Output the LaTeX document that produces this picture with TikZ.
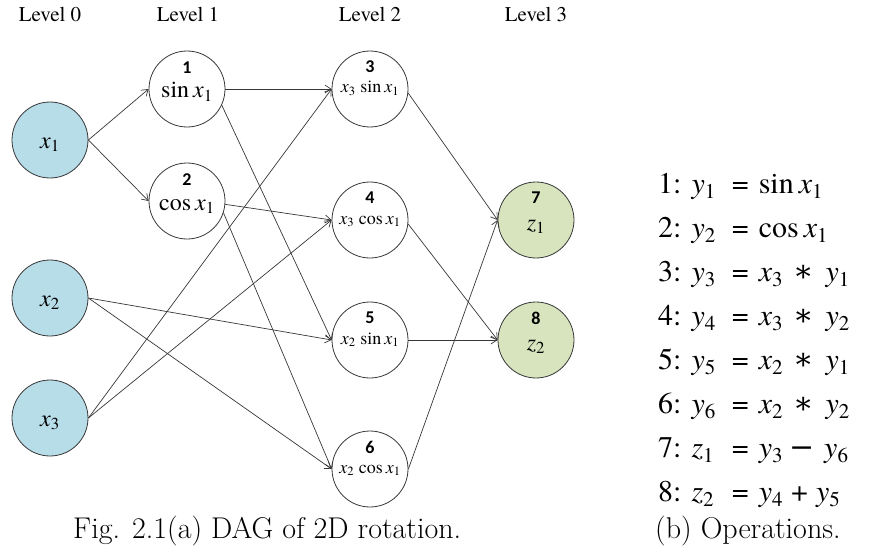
\documentclass[tikz,border=0pt]{standalone}
\usepackage{fontspec}
\setmainfont{texgyretermes}[Extension=.otf,UprightFont=*-regular,ItalicFont=*-italic,BoldFont=*-bold,BoldItalicFont=*-bolditalic]
\newfontfamily\lmr{Latin Modern Roman}
\newfontfamily\numfont{Carlito}
\newfontfamily\symfont{DejaVu Serif}
\usepackage{tikz}
\usetikzlibrary{arrows.meta}
\definecolor{xblue}{RGB}{183,221,232}
\definecolor{zgreen}{RGB}{215,228,189}
\definecolor{edgegray}{RGB}{55,55,55}
\newcommand{\vsub}[2]{\textit{#1}\textsubscript{#2}}
\newcommand{\opast}{\hspace{10pt}{\symfont ∗}\hspace{12pt}}
\newcommand{\opminus}{\hspace{6pt}{\symfont −}\hspace{10pt}}
\newcommand{\opplus}{\hspace{8pt}+\hspace{8pt}}
\tikzset{
  opnode/.style={circle,draw=edgegray,line width=0.8pt,minimum size=76pt,inner sep=0pt},
  innode/.style={opnode,fill=xblue},
  outnode/.style={opnode,fill=zgreen},
  numtxt/.style={font=\numfont\fontsize{18}{20}\selectfont\bfseries,inner sep=0pt},
  bigtxt/.style={font=\fontsize{24}{28}\selectfont,inner sep=0pt,anchor=base},
  smalltxt/.style={font=\fontsize{18}{22}\selectfont,inner sep=0pt,anchor=base},
  lvl/.style={font=\fontsize{21}{24}\selectfont,inner sep=0pt,anchor=base},
  capt/.style={font=\lmr\fontsize{30}{36}\selectfont,inner sep=0pt,anchor=base west},
  dag/.style={-{Straight Barb[length=6pt,width=8pt]},line width=0.7pt,edgegray},
}
\begin{document}
\begin{tikzpicture}[x=1pt,y=-1pt]
  \useasboundingbox (0,0) rectangle (869,559);

  % level headings
  \node[lvl] (lv0) at (50,22)  {Level 0};
  \node[lvl] (lv1) at (188,22) {Level 1};
  \node[lvl] (lv2) at (370,22) {Level 2};
  \node[lvl] (lv3) at (536,22) {Level 3};

  % inputs
  \node[innode] (x1) at (50,140) {};
  \node[innode] (x2) at (50,298) {};
  \node[innode] (x3) at (50,418) {};
  \node[bigtxt] (x1t) at ([yshift=-8pt]x1.center) {\vsub{x}{1}};
  \node[bigtxt] (x2t) at ([yshift=-8pt]x2.center) {\vsub{x}{2}};
  \node[bigtxt] (x3t) at ([yshift=-8pt]x3.center) {\vsub{x}{3}};

  % level 1
  \node[opnode] (n1) at (187,89)  {};
  \node[opnode] (n2) at (187,201) {};
  \node[numtxt] (n1a) at ([yshift=21pt]n1.center) {1};
  \node[numtxt] (n2a) at ([yshift=21pt]n2.center) {2};
  \node[bigtxt] (n1b) at ([yshift=-9pt]n1.center) {sin\,\vsub{x}{1}};
  \node[bigtxt] (n2b) at ([yshift=-9pt]n2.center) {cos\,\vsub{x}{1}};

  % level 2
  \node[opnode] (n3) at (370,89)  {};
  \node[opnode] (n4) at (370,220) {};
  \node[opnode] (n5) at (370,340) {};
  \node[opnode] (n6) at (370,469) {};
  \node[numtxt] (n3a) at ([yshift=22pt]n3.center) {3};
  \node[numtxt] (n4a) at ([yshift=22pt]n4.center) {4};
  \node[numtxt] (n5a) at ([yshift=22pt]n5.center) {5};
  \node[numtxt] (n6a) at ([yshift=22pt]n6.center) {6};
  \node[smalltxt] (n3b) at ([yshift=-4pt]n3.center) {\vsub{x}{3} sin\,\vsub{x}{1}};
  \node[smalltxt] (n4b) at ([yshift=-4pt]n4.center) {\vsub{x}{3} cos\,\vsub{x}{1}};
  \node[smalltxt] (n5b) at ([yshift=-4pt]n5.center) {\vsub{x}{2} sin\,\vsub{x}{1}};
  \node[smalltxt] (n6b) at ([yshift=-4pt]n6.center) {\vsub{x}{2} cos\,\vsub{x}{1}};

  % level 3
  \node[outnode] (n7) at (536,220) {};
  \node[outnode] (n8) at (536,340) {};
  \node[numtxt] (n7a) at ([yshift=22pt]n7.center) {7};
  \node[numtxt] (n8a) at ([yshift=22pt]n8.center) {8};
  \node[bigtxt] (n7b) at ([yshift=-10pt]n7.center) {\vsub{z}{1}};
  \node[bigtxt] (n8b) at ([yshift=-10pt]n8.center) {\vsub{z}{2}};

  % edges
  \draw[dag] (x1.east) -- (n1.west);
  \draw[dag] (x1.east) -- (n2.west);
  \draw[dag] (n1.east) -- (n3.west);
  \draw[dag] (n1.-25) -- (n5.west);
  \draw[dag] (n2.-5) -- (n4.west);
  \draw[dag] (n2.-18) -- (n6.west);
  \draw[dag] (x2.east) -- (n5.west);
  \draw[dag] (x2.east) -- (n6.west);
  \draw[dag] (x3.east) -- (n3.west);
  \draw[dag] (x3.east) -- (n4.west);
  \draw[dag] (n3.-6) -- (n7.west);
  \draw[dag] (n4.-6) -- (n8.west);
  \draw[dag] (n5.east) -- (n8.west);
  \draw[dag] (n6.east) -- (n7.west);

  % operations list
  \node[font=\fontsize{30}{44}\selectfont,inner sep=0pt,anchor=base west] (ops) at (658,193) {%
    \begin{tabular}[t]{@{}l@{\hspace{16pt}}c@{\hspace{10pt}}l@{}}
      1: \vsub{y}{1} & = & sin\,\vsub{x}{1}\\
      2: \vsub{y}{2} & = & cos\,\vsub{x}{1}\\
      3: \vsub{y}{3} & = & \vsub{x}{3}\opast\vsub{y}{1}\\
      4: \vsub{y}{4} & = & \vsub{x}{3}\opast\vsub{y}{2}\\
      5: \vsub{y}{5} & = & \vsub{x}{2}\opast\vsub{y}{1}\\
      6: \vsub{y}{6} & = & \vsub{x}{2}\opast\vsub{y}{2}\\
      7: \vsub{z}{1} & = & \vsub{y}{3}\opminus\vsub{y}{6}\\
      8: \vsub{z}{2} & = & \vsub{y}{4}\opplus\vsub{y}{5}
    \end{tabular}};

  % captions
  \node[capt] (capa) at (73,538) {Fig. 2.1(a) DAG of 2D rotation.};
  \node[capt] (capb) at (655,538) {(b) Operations.};
\end{tikzpicture}
\end{document}
